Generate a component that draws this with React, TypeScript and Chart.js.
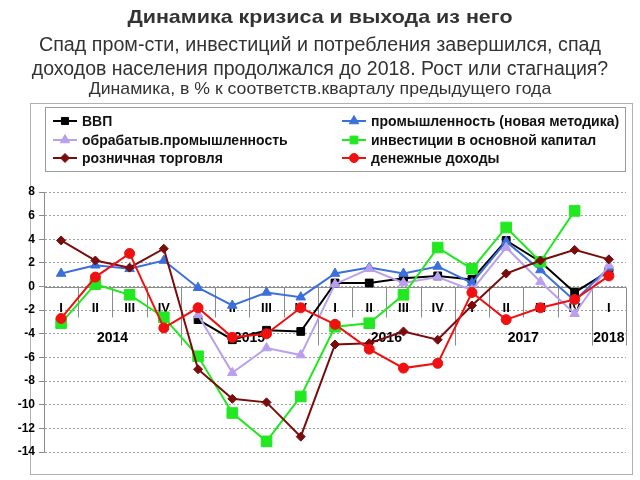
import React, { useEffect, useRef } from "react";
import { Chart, registerables } from "chart.js";
import { drawPoint } from "chart.js/helpers";

Chart.register(...registerables);

const FONT = "'Liberation Sans', Arial, sans-serif";

// Categories: quarters (multi-level axis with years)
const quarters = ["I", "II", "III", "IV", "I", "II", "III", "IV", "I", "II", "III", "IV", "I", "II", "III", "IV", "I"];
const years = ["2014", "2015", "2016", "2017", "2018"];
const yearSpans = [4, 4, 4, 4, 1];

// Y axis
const yMin = -14;
const yMax = 8;
const yStep = 2;

// Series (% to the same quarter of the previous year)
const gdp = [null, null, null, null, -2.8, -4.5, -3.7, -3.8, 0.3, 0.3, 0.7, 0.9, 0.6, 3.9, 2.1, -0.5, 1.3];
const industryNew = [1.1, 1.8, 1.5, 2.2, -0.1, -1.6, -0.5, -0.9, 1.1, 1.6, 1.1, 1.7, 0.3, 3.8, 1.4, -1.2, 1.6];
const manufacturing = [null, null, null, null, -2.4, -7.3, -5.2, -5.8, 0.2, 1.5, 0.3, 0.8, -0.3, 3.3, 0.4, -2.3, 1.8];
const investment = [-3.1, 0.2, -0.7, -2.6, -5.9, -10.7, -13.1, -9.3, -3.4, -3.1, -0.7, 3.3, 1.5, 5.0, 2.1, 6.4, null];
const retail = [3.9, 2.2, 1.6, 3.2, -7.0, -9.5, -9.8, -12.7, -4.9, -4.8, -3.8, -4.5, -1.6, 1.1, 2.2, 3.1, 2.3];
const income = [-2.7, 0.8, 2.8, -3.5, -1.8, -4.3, -4.0, -1.8, -3.2, -5.3, -6.9, -6.5, -0.5, -2.8, -1.8, -1.1, 0.9];

const seriesLabels = [
  "ВВП",
  "промышленность (новая методика)",
  "обрабатыв.промышленность",
  "инвестиции в основной капитал",
  "розничная торговля",
  "денежные доходы",
];

const titleLines = [
  "Динамика кризиса и выхода из него",
  "Спад пром-сти, инвестиций и потребления завершился, спад",
  "доходов населения продолжался до 2018. Рост или стагнация?",
  "Динамика, в % к соответств.кварталу предыдущего года",
];

const axisPlugin = {
  id: "multiLevelAxis",
  beforeDatasetsDraw(chart: any) {
    const { ctx, chartArea, scales } = chart;
    const xs = scales.x;
    const ys = scales.y;
    const y0 = Math.round(ys.getPixelForValue(0)) + 0.5;
    const n = quarters.length;
    const step = (chartArea.right - chartArea.left) / n;
    ctx.save();
    ctx.strokeStyle = "#8c8c8c";
    ctx.lineWidth = 1;
    ctx.setLineDash([]);
    ctx.beginPath();
    ctx.moveTo(chartArea.left, y0);
    ctx.lineTo(chartArea.right, y0);
    ctx.stroke();
    const yearBounds = new Set<number>();
    let acc = 0;
    yearBounds.add(0);
    yearSpans.forEach((s) => {
      acc += s;
      yearBounds.add(acc);
    });
    for (let i = 0; i <= n; i++) {
      const x = Math.round(chartArea.left + i * step) + 0.5;
      const len = yearBounds.has(i) ? 58 : 30;
      ctx.beginPath();
      ctx.moveTo(x, y0);
      ctx.lineTo(x, y0 + len);
      ctx.stroke();
    }
    ctx.fillStyle = "#000";
    ctx.textAlign = "center";
    ctx.textBaseline = "middle";
    ctx.font = `bold 13px ${FONT}`;
    quarters.forEach((q, i) => {
      ctx.fillText(q, xs.getPixelForValue(i), y0 + 21);
    });
    ctx.font = `bold 14px ${FONT}`;
    acc = 0;
    years.forEach((yr, k) => {
      const a = acc;
      const b = acc + yearSpans[k] - 1;
      acc += yearSpans[k];
      const xc = (xs.getPixelForValue(a) + xs.getPixelForValue(b)) / 2;
      ctx.fillText(yr, xc, y0 + 51);
    });
    ctx.restore();
  },
};

const legendPlugin = {
  id: "customLegend",
  afterDraw(chart: any) {
    const { ctx } = chart;
    ctx.save();
    ctx.strokeStyle = "#9a9a9a";
    ctx.lineWidth = 1;
    ctx.strokeRect(45.5, 107.5, 580, 64);
    const colX = [53, 342];
    const rowY = [121, 140, 158];
    chart.data.datasets.forEach((ds: any, i: number) => {
      const col = i % 2;
      const row = Math.floor(i / 2);
      const x = colX[col];
      const y = rowY[row];
      ctx.strokeStyle = ds.borderColor;
      ctx.lineWidth = 2;
      ctx.beginPath();
      ctx.moveTo(x, y);
      ctx.lineTo(x + 24, y);
      ctx.stroke();
      ctx.fillStyle = ds.pointBackgroundColor;
      ctx.strokeStyle = ds.pointBorderColor;
      ctx.lineWidth = 1;
      drawPoint(ctx, { pointStyle: ds.pointStyle, rotation: 0, radius: ds.legendRadius, borderWidth: 1 }, x + 12, y);
      ctx.fillStyle = "#111";
      ctx.font = `bold 14px ${FONT}`;
      ctx.textAlign = "left";
      ctx.textBaseline = "middle";
      ctx.fillText(ds.label, x + 29, y + 1);
    });
    ctx.restore();
  },
};

function makeDataset(label: string, data: (number | null)[], color: string, style: string, radius: number, order: number, legendRadius: number) {
  return {
    label,
    data,
    borderColor: color,
    backgroundColor: color,
    pointBackgroundColor: color,
    pointBorderColor: color,
    pointStyle: style,
    pointRadius: radius,
    pointBorderWidth: 1,
    borderWidth: 2,
    tension: 0,
    spanGaps: false,
    order,
    legendRadius,
  };
}

export default function App() {
  const canvasRef = useRef<HTMLCanvasElement | null>(null);

  useEffect(() => {
    if (!canvasRef.current) return;
    const chart = new Chart(canvasRef.current, {
      type: "line",
      data: {
        labels: quarters.map((q, i) => `${q}-${i}`),
        datasets: [
          makeDataset(seriesLabels[0], gdp, "#000000", "rect", 5.5, 6, 5),
          makeDataset(seriesLabels[1], industryNew, "#3a6fdc", "triangle", 5.5, 5, 5.5),
          makeDataset(seriesLabels[2], manufacturing, "#b9a0ee", "triangle", 5.5, 4, 5.5),
          makeDataset(seriesLabels[3], investment, "#22e822", "rect", 7.5, 3, 5.5),
          makeDataset(seriesLabels[4], retail, "#7a0c0c", "rectRot", 4.5, 2, 4.5),
          makeDataset(seriesLabels[5], income, "#f01010", "circle", 5, 1, 4.5),
        ] as any,
      },
      options: {
        animation: false,
        responsive: false,
        maintainAspectRatio: false,
        layout: { padding: { top: 192, bottom: 28, left: 0, right: 14 } },
        plugins: {
          legend: { display: false },
          title: { display: false },
          tooltip: { enabled: false },
        },
        scales: {
          x: { type: "category", display: false, offset: true },
          y: {
            min: yMin,
            max: yMax,
            ticks: {
              stepSize: yStep,
              color: "#000",
              padding: 4,
              font: { weight: "bold", size: 12, family: FONT },
            },
            grid: { color: "#a0a0a0", tickLength: 5, tickColor: "#8c8c8c", lineWidth: 1 },
            border: { display: true, color: "#8c8c8c", dash: [2, 2] },
            afterFit: (s: any) => {
              s.width = 44;
            },
          },
        },
      } as any,
      plugins: [axisPlugin, legendPlugin],
    });
    return () => chart.destroy();
  }, []);

  const lineStyle = (top: number, size: number, bold: boolean, sx: number): React.CSSProperties => ({
    position: "absolute",
    left: 0,
    top: top - 12,
    width: 640,
    height: 24,
    lineHeight: "24px",
    textAlign: "center",
    fontFamily: FONT,
    fontSize: size,
    fontWeight: bold ? "bold" : "normal",
    color: "#333",
    whiteSpace: "nowrap",
    transform: `scaleX(${sx})`,
    transformOrigin: "50% 50%",
  });

  return (
    <div style={{ position: "fixed", left: 0, top: 0, width: 640, height: 480, background: "#fff", overflow: "hidden" }}>
      <div style={{ position: "absolute", left: 30, top: 103, width: 601, height: 370, border: "1px solid #b0b0b0" }} />
      <canvas ref={canvasRef} width={640} height={480} style={{ position: "absolute", left: 0, top: 0, width: 640, height: 480 }} />
      <div style={lineStyle(17, 19, true, 1.13)}>{titleLines[0]}</div>
      <div style={lineStyle(44, 19.5, false, 1.01)}>{titleLines[1]}</div>
      <div style={lineStyle(68, 19.5, false, 1.0)}>{titleLines[2]}</div>
      <div style={lineStyle(89, 17, false, 1.04)}>{titleLines[3]}</div>
    </div>
  );
}
